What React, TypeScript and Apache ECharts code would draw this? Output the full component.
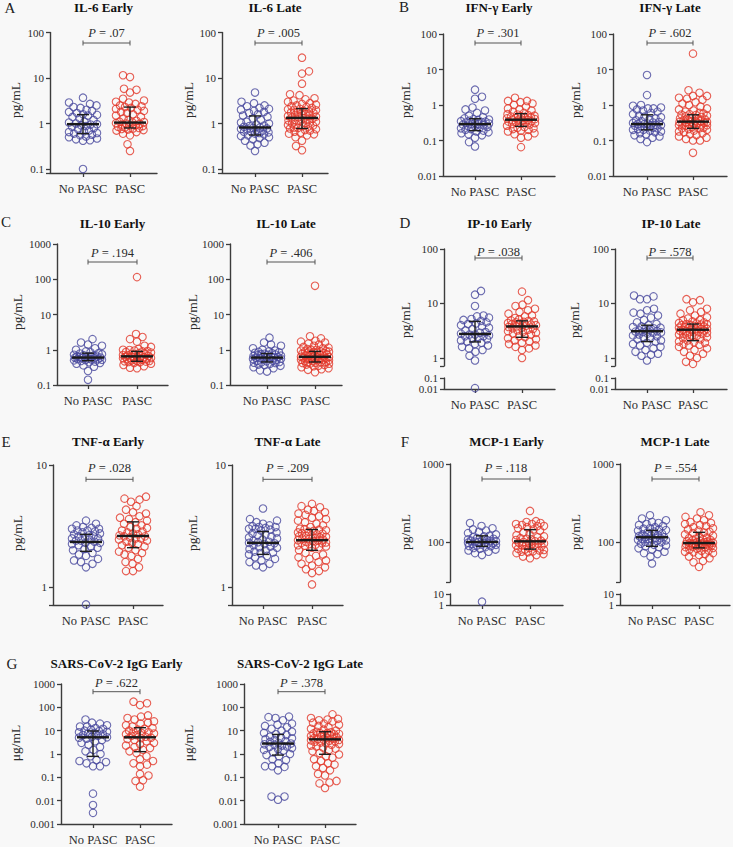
import React, { useEffect, useRef } from 'react';
import * as echarts from 'echarts';

// ---------------- DATA ----------------
const GROUP_LABELS = ['No PASC', 'PASC'];
const PANEL_TITLES = [
  'IL-6 Early', 'IL-6 Late', 'IFN-γ Early', 'IFN-γ Late', 'IL-10 Early', 'IL-10 Late',
  'IP-10 Early', 'IP-10 Late', 'TNF-α Early', 'TNF-α Late', 'MCP-1 Early', 'MCP-1 Late',
  'SARS-CoV-2 IgG Early', 'SARS-CoV-2 IgG Late',
];
const PANEL_LETTERS = ['A', '', 'B', '', 'C', '', 'D', '', 'E', '', 'F', '', 'G', ''];
const P_VALUES = ['.07', '.005', '.301', '.602', '.194', '.406', '.038', '.578', '.028', '.209', '.118', '.554', '.622', '.378'];
const Y_UNITS = ['pg/mL', 'pg/mL', 'pg/mL', 'pg/mL', 'pg/mL', 'pg/mL', 'pg/mL', 'pg/mL', 'pg/mL', 'pg/mL', 'pg/mL', 'pg/mL', 'μg/mL', 'μg/mL'];

const il6EarlyNo = [0.1, 0.42, 0.43, 0.45, 0.47, 0.5, 0.52, 0.55, 0.57, 0.6, 0.62, 0.65, 0.68, 0.7, 0.75, 0.8, 0.85, 0.88, 0.92, 0.95, 0.97, 1.0, 1.05, 1.1, 1.2, 1.3, 1.4, 1.5, 1.55, 1.6, 1.7, 1.8, 1.9, 2.0, 2.2, 2.3, 2.5, 2.7, 2.9, 3.7];
const il6EarlyPasc = [0.25, 0.35, 0.55, 0.6, 0.65, 0.7, 0.72, 0.74, 0.76, 0.78, 0.8, 0.82, 0.85, 0.88, 0.9, 0.92, 0.95, 0.98, 1.0, 1.02, 1.05, 1.08, 1.1, 1.15, 1.2, 1.3, 1.4, 1.5, 1.6, 1.7, 1.8, 1.9, 2.0, 2.1, 2.2, 2.3, 2.4, 2.5, 2.7, 2.9, 3.0, 3.2, 3.5, 4.8, 5.5, 5.8, 10.5, 11.5];
const il6LateNo = [0.25, 0.33, 0.35, 0.38, 0.42, 0.45, 0.48, 0.5, 0.53, 0.55, 0.58, 0.6, 0.62, 0.64, 0.66, 0.68, 0.7, 0.72, 0.74, 0.76, 0.78, 0.8, 0.82, 0.85, 0.88, 0.9, 0.95, 1.0, 1.05, 1.1, 1.2, 1.3, 1.4, 1.5, 1.6, 1.7, 1.8, 1.9, 2.0, 2.1, 2.2, 2.4, 2.5, 2.8, 3.0, 4.8];
const il6LatePasc = [0.26, 0.32, 0.42, 0.5, 0.55, 0.58, 0.6, 0.63, 0.66, 0.7, 0.72, 0.75, 0.78, 0.8, 0.82, 0.85, 0.88, 0.9, 0.93, 0.96, 1.0, 1.03, 1.06, 1.1, 1.13, 1.17, 1.2, 1.24, 1.28, 1.32, 1.35, 1.38, 1.42, 1.46, 1.5, 1.55, 1.6, 1.65, 1.7, 1.75, 1.8, 1.85, 1.9, 1.95, 2.0, 2.05, 2.1, 2.2, 2.3, 2.4, 2.5, 2.6, 2.7, 2.8, 3.0, 3.2, 3.4, 3.6, 4.2, 4.4, 7.5, 12.5, 14, 28];

const ifnEarlyNo = [0.068, 0.09, 0.12, 0.14, 0.15, 0.16, 0.17, 0.18, 0.19, 0.2, 0.21, 0.22, 0.23, 0.24, 0.25, 0.26, 0.27, 0.28, 0.29, 0.29, 0.3, 0.31, 0.32, 0.33, 0.34, 0.35, 0.36, 0.38, 0.39, 0.4, 0.42, 0.45, 0.5, 0.6, 0.7, 0.75, 0.85, 1.5, 1.7, 2.7];
const ifnEarlyPasc = [0.065, 0.12, 0.13, 0.15, 0.16, 0.18, 0.19, 0.2, 0.21, 0.22, 0.23, 0.24, 0.26, 0.28, 0.29, 0.3, 0.31, 0.32, 0.33, 0.34, 0.35, 0.36, 0.37, 0.38, 0.39, 0.4, 0.42, 0.43, 0.44, 0.45, 0.47, 0.48, 0.5, 0.52, 0.54, 0.55, 0.6, 0.65, 0.7, 0.75, 0.8, 0.9, 1.0, 1.1, 1.2, 1.3, 1.3, 1.6];
const ifnLateNo = [0.09, 0.11, 0.12, 0.13, 0.14, 0.15, 0.16, 0.17, 0.18, 0.19, 0.2, 0.2, 0.21, 0.22, 0.23, 0.24, 0.25, 0.26, 0.27, 0.27, 0.28, 0.29, 0.29, 0.3, 0.31, 0.32, 0.33, 0.35, 0.37, 0.39, 0.42, 0.45, 0.47, 0.5, 0.55, 0.6, 0.65, 0.7, 0.75, 0.8, 0.8, 0.85, 0.95, 1.0, 1.9, 7.0];
const ifnLatePasc = [0.045, 0.1, 0.1, 0.11, 0.12, 0.13, 0.14, 0.15, 0.16, 0.17, 0.18, 0.19, 0.2, 0.21, 0.22, 0.22, 0.23, 0.24, 0.25, 0.26, 0.27, 0.27, 0.28, 0.29, 0.3, 0.3, 0.31, 0.32, 0.32, 0.33, 0.33, 0.34, 0.35, 0.36, 0.37, 0.38, 0.39, 0.4, 0.42, 0.44, 0.46, 0.48, 0.5, 0.52, 0.54, 0.55, 0.58, 0.6, 0.65, 0.7, 0.75, 0.8, 0.9, 1.0, 1.1, 1.2, 1.4, 1.5, 1.6, 1.8, 1.8, 2.2, 2.6, 28];

const il10EarlyNo = [0.14, 0.25, 0.33, 0.36, 0.4, 0.42, 0.44, 0.46, 0.48, 0.5, 0.51, 0.52, 0.53, 0.54, 0.55, 0.56, 0.57, 0.58, 0.59, 0.6, 0.61, 0.62, 0.63, 0.64, 0.65, 0.66, 0.68, 0.7, 0.72, 0.75, 0.78, 0.8, 0.85, 0.9, 1.0, 1.1, 1.3, 1.4, 1.6, 2.0];
const il10EarlyPasc = [0.3, 0.31, 0.34, 0.37, 0.4, 0.42, 0.44, 0.45, 0.46, 0.47, 0.48, 0.48, 0.5, 0.52, 0.53, 0.54, 0.55, 0.56, 0.57, 0.58, 0.59, 0.6, 0.61, 0.62, 0.63, 0.65, 0.67, 0.69, 0.71, 0.73, 0.75, 0.77, 0.8, 0.83, 0.86, 0.9, 0.92, 0.95, 0.98, 1.0, 1.05, 1.2, 1.3, 1.7, 2.0, 2.3, 2.8, 115];
const il10LateNo = [0.24, 0.26, 0.3, 0.32, 0.35, 0.37, 0.38, 0.4, 0.42, 0.43, 0.44, 0.45, 0.47, 0.49, 0.5, 0.52, 0.53, 0.55, 0.56, 0.57, 0.58, 0.59, 0.6, 0.61, 0.62, 0.64, 0.65, 0.66, 0.68, 0.7, 0.72, 0.73, 0.75, 0.77, 0.8, 0.82, 0.85, 0.87, 0.9, 0.95, 1.0, 1.1, 1.3, 1.4, 1.6, 2.2];
const il10LatePasc = [0.23, 0.27, 0.28, 0.3, 0.32, 0.34, 0.35, 0.37, 0.38, 0.4, 0.41, 0.42, 0.43, 0.44, 0.45, 0.45, 0.47, 0.48, 0.5, 0.51, 0.52, 0.53, 0.54, 0.55, 0.56, 0.57, 0.58, 0.59, 0.6, 0.61, 0.62, 0.63, 0.64, 0.66, 0.68, 0.7, 0.72, 0.74, 0.76, 0.78, 0.8, 0.82, 0.84, 0.86, 0.88, 0.9, 0.9, 0.92, 0.95, 1.0, 1.0, 1.05, 1.1, 1.15, 1.2, 1.3, 1.4, 1.5, 1.6, 1.7, 1.8, 2.1, 2.4, 65];

const ip10EarlyNo = [0.012, 0.9, 1.1, 1.3, 1.4, 1.5, 1.6, 1.7, 1.8, 1.9, 2.0, 2.1, 2.2, 2.3, 2.4, 2.5, 2.5, 2.6, 2.7, 2.7, 2.8, 2.9, 3.0, 3.2, 3.4, 3.6, 3.8, 4.0, 4.2, 4.3, 4.5, 4.8, 5.0, 5.2, 5.5, 5.8, 6.0, 9.0, 14.5, 17];
const ip10EarlyPasc = [1.0, 1.4, 1.5, 1.6, 1.7, 1.8, 1.9, 2.0, 2.1, 2.2, 2.3, 2.4, 2.5, 2.7, 2.8, 2.9, 3.0, 3.1, 3.2, 3.3, 3.4, 3.5, 3.6, 3.7, 3.8, 3.9, 4.0, 4.1, 4.2, 4.3, 4.4, 4.5, 4.6, 4.7, 4.8, 4.9, 5.1, 5.4, 5.8, 6.0, 6.5, 7.0, 7.5, 8.0, 9.0, 9.5, 11.5, 16.5];
const ip10LateNo = [0.9, 1.1, 1.15, 1.2, 1.3, 1.4, 1.5, 1.6, 1.7, 1.8, 1.9, 2.0, 2.1, 2.2, 2.3, 2.4, 2.5, 2.6, 2.7, 2.8, 2.9, 2.95, 3.0, 3.05, 3.1, 3.2, 3.3, 3.4, 3.5, 3.6, 3.7, 3.8, 4.0, 4.2, 4.5, 5.0, 5.5, 6.0, 6.5, 6.8, 7.5, 8.0, 12, 12, 13.5, 14];
const ip10LatePasc = [0.78, 0.85, 1.0, 1.1, 1.2, 1.3, 1.4, 1.5, 1.6, 1.7, 1.75, 1.8, 1.9, 1.95, 2.0, 2.1, 2.2, 2.3, 2.4, 2.5, 2.55, 2.6, 2.7, 2.75, 2.8, 2.9, 2.95, 3.0, 3.05, 3.1, 3.15, 3.2, 3.25, 3.3, 3.35, 3.4, 3.45, 3.5, 3.6, 3.7, 3.75, 3.8, 3.9, 4.0, 4.05, 4.1, 4.15, 4.2, 4.3, 4.4, 4.5, 4.7, 4.9, 5.0, 5.3, 5.6, 6.0, 6.5, 7.0, 7.5, 8.0, 10.5, 11.5, 12];

const tnfEarlyNo = [0.72, 1.45, 1.55, 1.6, 1.65, 1.7, 1.8, 1.85, 1.9, 2.0, 2.05, 2.1, 2.15, 2.2, 2.25, 2.3, 2.3, 2.35, 2.4, 2.4, 2.45, 2.5, 2.5, 2.55, 2.6, 2.6, 2.65, 2.7, 2.75, 2.8, 2.85, 2.9, 2.9, 3.0, 3.0, 3.05, 3.1, 3.2, 3.3, 3.5];
const tnfEarlyPasc = [1.35, 1.35, 1.45, 1.55, 1.6, 1.7, 1.8, 1.85, 1.9, 1.95, 2.0, 2.1, 2.15, 2.2, 2.25, 2.3, 2.35, 2.4, 2.45, 2.5, 2.5, 2.55, 2.6, 2.6, 2.65, 2.7, 2.75, 2.8, 2.85, 2.9, 3.0, 3.05, 3.1, 3.2, 3.3, 3.4, 3.5, 3.6, 3.7, 3.8, 4.0, 4.1, 4.3, 4.6, 5.0, 5.2, 5.3, 5.5];
const tnfLateNo = [1.45, 1.5, 1.55, 1.6, 1.65, 1.7, 1.75, 1.8, 1.85, 1.9, 1.92, 1.95, 2.0, 2.05, 2.1, 2.12, 2.15, 2.2, 2.25, 2.28, 2.3, 2.33, 2.35, 2.4, 2.45, 2.5, 2.55, 2.6, 2.65, 2.7, 2.75, 2.8, 2.9, 2.95, 3.0, 3.0, 3.05, 3.1, 3.1, 3.15, 3.2, 3.3, 3.4, 3.5, 3.6, 4.4];
const tnfLatePasc = [1.05, 1.3, 1.35, 1.4, 1.45, 1.5, 1.55, 1.6, 1.65, 1.7, 1.75, 1.8, 1.85, 1.9, 2.0, 2.1, 2.12, 2.15, 2.18, 2.2, 2.22, 2.25, 2.28, 2.3, 2.32, 2.35, 2.38, 2.4, 2.42, 2.45, 2.48, 2.5, 2.52, 2.55, 2.58, 2.6, 2.63, 2.66, 2.7, 2.73, 2.76, 2.8, 2.84, 2.88, 2.92, 2.95, 2.98, 3.0, 3.1, 3.2, 3.3, 3.4, 3.5, 3.6, 3.7, 3.8, 3.9, 4.0, 4.1, 4.2, 4.3, 4.5, 4.6, 4.8];

const mcpEarlyNo = [2, 68, 72, 75, 78, 80, 82, 84, 86, 88, 89, 90, 92, 93, 94, 95, 96, 97, 98, 100, 101, 102, 103, 104, 105, 106, 108, 110, 112, 115, 118, 120, 125, 130, 135, 140, 145, 150, 160, 175];
const mcpEarlyPasc = [62, 65, 68, 70, 72, 74, 75, 76, 78, 79, 80, 82, 84, 86, 88, 90, 91, 92, 94, 95, 96, 97, 98, 100, 102, 104, 106, 108, 110, 112, 115, 118, 122, 126, 132, 140, 145, 150, 155, 160, 160, 165, 170, 170, 175, 180, 185, 250];
const mcpLateNo = [53, 65, 70, 72, 75, 80, 83, 86, 88, 90, 92, 95, 97, 99, 101, 103, 105, 107, 108, 109, 110, 112, 113, 115, 117, 119, 121, 123, 125, 128, 132, 136, 140, 142, 145, 148, 150, 155, 160, 165, 170, 175, 180, 190, 200, 220];
const mcpLatePasc = [48, 55, 57, 62, 65, 68, 70, 72, 74, 75, 77, 78, 80, 82, 84, 85, 86, 87, 88, 89, 90, 90, 91, 92, 93, 93, 94, 95, 95, 96, 96, 97, 98, 99, 100, 101, 102, 103, 105, 106, 108, 110, 112, 114, 117, 120, 125, 130, 132, 135, 140, 145, 150, 155, 160, 165, 170, 175, 180, 190, 200, 210, 220, 240];

const iggEarlyNo = [0.003, 0.0065, 0.02, 0.3, 0.3, 0.4, 0.45, 0.5, 0.55, 0.8, 1.0, 1.3, 1.5, 2.0, 2.5, 3.0, 3.5, 4.0, 4.5, 5.0, 5.2, 5.5, 6.0, 6.5, 7.0, 7.5, 8.0, 8.5, 9.0, 9.5, 10, 11, 12, 13, 15, 15, 17, 20, 22, 30];
const iggEarlyPasc = [0.04, 0.07, 0.075, 0.12, 0.14, 0.3, 0.35, 0.4, 0.5, 0.6, 0.8, 1.1, 1.3, 1.5, 1.8, 2.0, 2.3, 2.6, 3.0, 3.5, 4.0, 4.4, 4.8, 5.0, 5.5, 6.0, 6.5, 7.0, 7.5, 8.0, 8.5, 9.0, 10, 11, 12, 13, 15, 17, 20, 22, 25, 30, 35, 40, 45, 125, 150, 175];
const iggLateNo = [0.011, 0.015, 0.015, 0.2, 0.28, 0.3, 0.3, 0.4, 0.55, 0.6, 0.8, 0.9, 1.0, 1.2, 1.4, 1.5, 1.6, 1.8, 2.0, 2.1, 2.3, 2.5, 2.6, 2.8, 3.0, 3.3, 3.6, 4.0, 4.3, 4.7, 5.0, 5.5, 6.5, 7.0, 8.0, 9.0, 10, 12, 14, 16, 18, 20, 28, 35, 38, 40];
const iggLatePasc = [0.035, 0.055, 0.06, 0.07, 0.12, 0.14, 0.2, 0.25, 0.3, 0.35, 0.4, 0.5, 0.6, 0.7, 0.8, 0.95, 1.1, 1.3, 1.5, 1.7, 1.9, 2.1, 2.3, 2.5, 2.7, 2.9, 3.1, 3.3, 3.5, 3.7, 3.85, 4.0, 4.2, 4.4, 4.6, 4.8, 5.0, 5.3, 5.6, 5.9, 6.2, 6.5, 6.8, 7.0, 7.3, 7.6, 7.8, 8.0, 8.5, 9.0, 10, 11, 12, 14, 16, 18, 20, 22, 25, 28, 30, 32, 35, 50];

// [median, Q1, Q3] for [No PASC, PASC]
const il6EarlySummary = [[0.97, 0.6, 1.57], [1.05, 0.8, 2.3]];
const il6LateSummary = [[0.82, 0.56, 1.47], [1.33, 0.78, 2.13]];
const ifnEarlySummary = [[0.29, 0.19, 0.41], [0.385, 0.25, 0.57]];
const ifnLateSummary = [[0.29, 0.2, 0.53], [0.34, 0.22, 0.53]];
const il10EarlySummary = [[0.6, 0.49, 0.8], [0.65, 0.47, 0.9]];
const il10LateSummary = [[0.6, 0.45, 0.78], [0.63, 0.45, 0.9]];
const ip10EarlySummary = [[2.76, 1.97, 4.7], [3.8, 2.4, 4.8]];
const ip10LateSummary = [[3.1, 2.0, 4.0], [3.3, 2.08, 4.2]];
const tnfEarlySummary = [[2.34, 1.96, 2.7], [2.62, 2.1, 3.42]];
const tnfLateSummary = [[2.3, 1.85, 2.85], [2.42, 2.0, 2.96]];
const mcpEarlySummary = [[100, 88, 120], [102, 81, 144]];
const mcpLateSummary = [[115, 88, 141], [97, 84, 133]];
const iggEarlySummary = [[5.2, 0.79, 9.7], [5.2, 1.26, 13.4]];
const iggLateSummary = [[2.8, 0.9, 6.9], [4.25, 0.97, 9.0]];

const GROUP_VALUES = [
  [il6EarlyNo, il6EarlyPasc], [il6LateNo, il6LatePasc],
  [ifnEarlyNo, ifnEarlyPasc], [ifnLateNo, ifnLatePasc],
  [il10EarlyNo, il10EarlyPasc], [il10LateNo, il10LatePasc],
  [ip10EarlyNo, ip10EarlyPasc], [ip10LateNo, ip10LatePasc],
  [tnfEarlyNo, tnfEarlyPasc], [tnfLateNo, tnfLatePasc],
  [mcpEarlyNo, mcpEarlyPasc], [mcpLateNo, mcpLatePasc],
  [iggEarlyNo, iggEarlyPasc], [iggLateNo, iggLatePasc],
];
const SUMMARIES = [
  il6EarlySummary, il6LateSummary, ifnEarlySummary, ifnLateSummary, il10EarlySummary, il10LateSummary,
  ip10EarlySummary, ip10LateSummary, tnfEarlySummary, tnfLateSummary, mcpEarlySummary, mcpLateSummary,
  iggEarlySummary, iggLateSummary,
];

// ---------------- LAYOUT (pixels) ----------------
type Brk = { mainBottom: number; top: number; yMin: number; yMax: number };
type Lay = {
  ax: number; right: number; top: number; bottom: number; yMin: number; yMax: number;
  c1: number; c2: number; nameX: number; nameY: number; titleY: number;
  textDy: number; bracketDy: number; letterX: number; letterY: number; brk?: Brk;
};
const rowA = { top: 32.5, bottom: 173, yMin: 0.082, yMax: 100, nameY: 100, titleY: 7, textDy: 0.5, bracketDy: 10.5, letterX: 10, letterY: 8 };
const rowB = { top: 34, bottom: 176, yMin: 0.01, yMax: 100, nameY: 100, titleY: 7, textDy: -1, bracketDy: 9, letterX: 404, letterY: 7 };
const rowC = { top: 244, bottom: 385, yMin: 0.1, yMax: 1000, nameY: 312, titleY: 223, textDy: 9, bracketDy: 18, letterX: 6, letterY: 222 };
const rowD = { top: 249, bottom: 389, yMin: 0.713, yMax: 100, nameY: 320, titleY: 223, textDy: 3, bracketDy: 9, letterX: 405, letterY: 223, brk: { mainBottom: 366, top: 378, yMin: 0.01, yMax: 0.1 } };
const rowE = { top: 465, bottom: 605, yMin: 0.712, yMax: 10, nameY: 533, titleY: 441, textDy: 3.3, bracketDy: 14.3, letterX: 6, letterY: 442 };
const rowF = { top: 464, bottom: 605, yMin: 30.7, yMax: 1000, nameY: 532, titleY: 441, textDy: 4, bracketDy: 15, letterX: 405, letterY: 442, brk: { mainBottom: 582, top: 594, yMin: 1, yMax: 10 } };
const rowG = { top: 684, bottom: 824, yMin: 0.001, yMax: 1000, nameY: 743, titleY: 663, textDy: -0.7, bracketDy: 7.7, letterX: 12, letterY: 664 };

const LAYOUT: Lay[] = [
  { ...rowA, ax: 50, right: 157, c1: 83, c2: 130, nameX: 15 },
  { ...rowA, ax: 222, right: 328, c1: 255, c2: 302, nameX: 188 },
  { ...rowB, ax: 443, right: 555, c1: 475, c2: 521, nameX: 405 },
  { ...rowB, ax: 613, right: 727, c1: 647, c2: 693, nameX: 575 },
  { ...rowC, ax: 57, right: 168, c1: 88, c2: 137, nameX: 17 },
  { ...rowC, ax: 230, right: 342, c1: 267, c2: 315, nameX: 192 },
  { ...rowD, ax: 444, right: 555, c1: 475, c2: 522, nameX: 405 },
  { ...rowD, ax: 615, right: 727, c1: 647, c2: 693, nameX: 574 },
  { ...rowE, ax: 53, right: 163, c1: 86, c2: 133, nameX: 17 },
  { ...rowE, ax: 232, right: 343, c1: 263, c2: 312, nameX: 192 },
  { ...rowF, ax: 450, right: 563, c1: 482, c2: 530, nameX: 405 },
  { ...rowF, ax: 620, right: 730, c1: 652, c2: 699, nameX: 575 },
  { ...rowG, ax: 61, right: 172, c1: 93, c2: 140, nameX: 15 },
  { ...rowG, ax: 244, right: 356, c1: 278, c2: 325, nameX: 188 },
];

const COLORS = ['#48489e', '#e2382b'];
const AXIS = '#3c3c3c';
const TEXT = '#2b2b2b';
const FONT = "'Liberation Serif', 'Times New Roman', serif";
const BG = '#f8f8f8';

function isPow10(v: number) {
  const l = Math.log10(v);
  return Math.abs(l - Math.round(l)) < 1e-6;
}
function fmtTick(v: number) {
  if (!isPow10(v)) return '';
  return v >= 1 ? String(Math.round(v)) : String(Number(v.toPrecision(3)));
}

// deterministic beeswarm layout in pixel space
function swarm(values: number[], decPx: number, unitPx: number, cat: number) {
  const sorted = [...values].sort((a, b) => a - b);
  const placed: { x: number; y: number }[] = [];
  const D = 7, MAX = 14, STEP = 0.5;
  return sorted.map((v) => {
    const y = -Math.log10(v) * decPx;
    let bestOff = 0;
    let bestD = -1;
    let found = false;
    for (let k = 0; k * STEP <= MAX && !found; k++) {
      const a = k * STEP;
      const cands = k === 0 ? [0] : placed.length % 2 === 0 ? [a, -a] : [-a, a];
      for (const off of cands) {
        let md = Infinity;
        for (const p of placed) {
          const dy = p.y - y;
          if (Math.abs(dy) < D) {
            const dd = Math.hypot(p.x - off, dy);
            if (dd < md) md = dd;
          }
        }
        if (md >= D) { bestOff = off; found = true; break; }
        if (md > bestD) { bestD = md; bestOff = off; }
      }
    }
    placed.push({ x: bestOff, y });
    return [cat + bestOff / unitPx, v];
  });
}

function xAxisOpt(gridIndex: number, min: number, max: number, show: boolean) {
  return {
    type: 'value', gridIndex, min, max,
    axisLine: { show, onZero: false, lineStyle: { color: AXIS, width: 1.4 } },
    axisTick: { show, customValues: [1, 2], length: 4, lineStyle: { color: AXIS, width: 1.3 } },
    axisLabel: {
      show, customValues: [1, 2], margin: 9, fontSize: 12.5, fontFamily: FONT, color: TEXT, hideOverlap: false,
      formatter: (v: number) => (Math.abs(v - 1) < 1e-6 ? GROUP_LABELS[0] : Math.abs(v - 2) < 1e-6 ? GROUP_LABELS[1] : ''),
    },
    splitLine: { show: false },
  };
}
function yAxisOpt(gridIndex: number, min: number, max: number) {
  return {
    type: 'log', logBase: 10, gridIndex, min, max,
    axisLine: { show: true, onZero: false, lineStyle: { color: AXIS, width: 1.4 } },
    axisTick: { show: true, length: 4, lineStyle: { color: AXIS, width: 1.3 } },
    axisLabel: {
      formatter: fmtTick, fontSize: 11, fontFamily: FONT, color: TEXT, margin: 6,
      showMinLabel: true, showMaxLabel: true, hideOverlap: false,
    },
    splitLine: { show: false },
    minorTick: { show: false },
  };
}

function buildOption() {
  const grids: any[] = [];
  const xAxes: any[] = [];
  const yAxes: any[] = [];
  const series: any[] = [];
  const graphics: any[] = [];

  LAYOUT.forEach((L, i) => {
    const unit = L.c2 - L.c1;
    const xMin = 1 - (L.c1 - L.ax) / unit;
    const xMax = 2 + (L.right - L.c2) / unit;
    const mainBottom = L.brk ? L.brk.mainBottom : L.bottom;
    const gi = grids.length;
    grids.push({ left: L.ax, top: L.top, width: L.right - L.ax, height: mainBottom - L.top, containLabel: false, outerBoundsMode: 'none' });
    xAxes.push(xAxisOpt(gi, xMin, xMax, !L.brk));
    yAxes.push(yAxisOpt(gi, L.yMin, L.yMax));
    const decPx = (mainBottom - L.top) / (Math.log10(L.yMax) - Math.log10(L.yMin));
    let lo = -1;
    if (L.brk) {
      lo = grids.length;
      grids.push({ left: L.ax, top: L.brk.top, width: L.right - L.ax, height: L.bottom - L.brk.top, containLabel: false, outerBoundsMode: 'none' });
      xAxes.push(xAxisOpt(lo, xMin, xMax, true));
      yAxes.push(yAxisOpt(lo, L.brk.yMin, L.brk.yMax));
    }
    GROUP_VALUES[i].forEach((vals, g) => {
      const main = vals.filter((v) => v >= L.yMin);
      const low = vals.filter((v) => v < L.yMin);
      const itemStyle = { color: 'rgba(0,0,0,0)', borderColor: COLORS[g], borderWidth: 1.1 };
      series.push({
        type: 'scatter', xAxisIndex: gi, yAxisIndex: gi, symbol: 'circle', symbolSize: 7.5,
        data: swarm(main, decPx, unit, g + 1), itemStyle, silent: true, z: 2,
      });
      if (lo >= 0 && low.length) {
        series.push({
          type: 'scatter', xAxisIndex: lo, yAxisIndex: lo, symbol: 'circle', symbolSize: 7.5,
          data: low.map((v) => [g + 1, v]), itemStyle, silent: true, z: 2,
        });
      }
    });
    // median + IQR
    series.push({
      type: 'custom', xAxisIndex: gi, yAxisIndex: gi, silent: true, z: 5,
      data: SUMMARIES[i].map((s, g) => [g + 1, s[0], s[1], s[2]]),
      encode: { x: 0, y: [1, 2, 3] },
      renderItem: (params: any, api: any) => {
        const x = api.value(0);
        const m = api.coord([x, api.value(1)]);
        const a = api.coord([x, api.value(2)]);
        const b = api.coord([x, api.value(3)]);
        const st = { stroke: '#1e1e1e', lineWidth: 1.4 };
        return {
          type: 'group',
          children: [
            { type: 'line', shape: { x1: m[0] - 16, y1: m[1], x2: m[0] + 16, y2: m[1] }, style: { stroke: '#1a1a1a', lineWidth: 2.4 } },
            { type: 'line', shape: { x1: a[0], y1: a[1], x2: b[0], y2: b[1] }, style: st },
            { type: 'line', shape: { x1: a[0] - 6, y1: a[1], x2: a[0] + 6, y2: a[1] }, style: st },
            { type: 'line', shape: { x1: b[0] - 6, y1: b[1], x2: b[0] + 6, y2: b[1] }, style: st },
          ],
        };
      },
    });
    // P-value bracket
    const pText = P_VALUES[i];
    series.push({
      type: 'custom', xAxisIndex: gi, yAxisIndex: gi, silent: true, z: 5,
      data: [[1, L.yMax]], encode: { x: 0, y: 1 },
      renderItem: (params: any, api: any) => {
        const p1 = api.coord([1, L.yMax]);
        const p2 = api.coord([2, L.yMax]);
        const cs = params.coordSys;
        const by = cs.y + L.bracketDy;
        const ty = cs.y + L.textDy;
        const st = { stroke: '#555', lineWidth: 1 };
        return {
          type: 'group',
          children: [
            { type: 'line', shape: { x1: p1[0], y1: by, x2: p2[0], y2: by }, style: st },
            { type: 'line', shape: { x1: p1[0], y1: by - 2.5, x2: p1[0], y2: by + 2.5 }, style: st },
            { type: 'line', shape: { x1: p2[0], y1: by - 2.5, x2: p2[0], y2: by + 2.5 }, style: st },
            {
              type: 'text', x: (p1[0] + p2[0]) / 2, y: ty,
              style: {
                text: '{i|P} = ' + pText, fill: TEXT, fontSize: 12.5, fontFamily: FONT,
                align: 'center', verticalAlign: 'middle',
                rich: { i: { fontStyle: 'italic', fontSize: 12.5, fontFamily: FONT, fill: TEXT } },
              },
            },
          ],
        };
      },
    });
    // title, letter, axis name
    graphics.push({
      type: 'text', x: (L.ax + L.right) / 2, y: L.titleY,
      style: { text: PANEL_TITLES[i], fontSize: 13, fontWeight: 'bold', fontFamily: FONT, fill: '#111', align: 'center', verticalAlign: 'middle', textAlign: 'center', textVerticalAlign: 'middle' },
    });
    if (PANEL_LETTERS[i]) {
      graphics.push({
        type: 'text', x: L.letterX, y: L.letterY,
        style: { text: PANEL_LETTERS[i], fontSize: 15, fontFamily: FONT, fill: '#222', align: 'center', verticalAlign: 'middle', textAlign: 'center', textVerticalAlign: 'middle' },
      });
    }
    graphics.push({
      type: 'text', x: L.nameX, y: L.nameY, rotation: Math.PI / 2,
      style: { text: Y_UNITS[i], fontSize: 13.5, fontFamily: FONT, fill: TEXT, align: 'center', verticalAlign: 'middle', textAlign: 'center', textVerticalAlign: 'middle' },
    });
  });

  return {
    animation: false,
    backgroundColor: BG,
    grid: grids,
    xAxis: xAxes,
    yAxis: yAxes,
    series,
    graphic: { elements: graphics },
  };
}

export default function App() {
  const ref = useRef<HTMLDivElement>(null);
  useEffect(() => {
    if (!ref.current) return;
    const chart = echarts.init(ref.current, undefined, { renderer: 'svg' });
    chart.setOption(buildOption() as any);
    return () => chart.dispose();
  }, []);
  return (
    <div
      ref={ref}
      style={{ position: 'fixed', left: 0, top: 0, width: 733, height: 847, background: BG }}
    />
  );
}
